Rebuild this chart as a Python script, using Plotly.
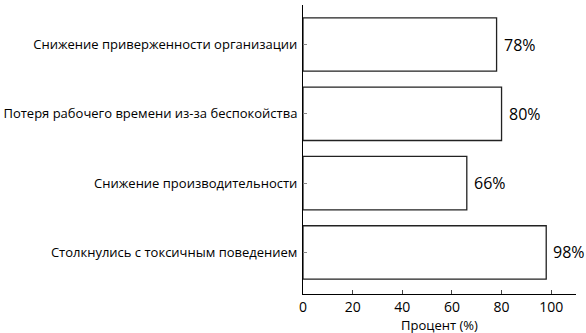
import plotly.graph_objects as go

categories = [
    "Столкнулись с токсичным поведением",
    "Снижение производительности",
    "Потеря рабочего времени из-за беспокойства",
    "Снижение приверженности организации",
]
values = [98, 66, 80, 78]
x_ticks = [0, 20, 40, 60, 80, 100]
x_title = "Процент (%)"

FONT = "Open Sans"

fig = go.Figure()
fig.add_trace(go.Bar(
    x=values,
    y=categories,
    orientation="h",
    width=0.77,
    marker=dict(color="white", line=dict(color="#222222", width=1.3)),
    hoverinfo="skip",
))

for v, c in zip(values, categories):
    fig.add_annotation(x=v, y=c, text=f"{v}%", showarrow=False,
                       xanchor="left", yanchor="middle", xshift=5,
                       font=dict(family=FONT, size=16, color="black"))

fig.add_annotation(x=0.5, y=0, xref="paper", yref="paper", text=x_title,
                   showarrow=False, xanchor="center", yanchor="top",
                   yshift=-20, font=dict(family=FONT, size=13, color="black"))

fig.update_layout(
    width=586, height=333,
    margin=dict(l=303, r=10, t=5, b=39, autoexpand=False),
    paper_bgcolor="white", plot_bgcolor="white",
    showlegend=False,
    font=dict(family=FONT, size=13, color="black"),
)
fig.update_xaxes(
    range=[0, 110], tickvals=x_ticks, showgrid=False, zeroline=False,
    showline=True, linecolor="black", linewidth=1,
    ticks="inside", ticklen=4, tickcolor="#444444",
    tickfont=dict(size=14), automargin=False, ticklabelstandoff=0,
)
fig.update_yaxes(
    type="category", categoryorder="array", categoryarray=categories,
    range=[-0.6, 3.57], showgrid=False, zeroline=False,
    showline=True, linecolor="black", linewidth=1,
    ticks="inside", ticklen=4, tickcolor="#888888",
    ticklabelstandoff=2, automargin=False,
)

fig.write_html("out.html")
